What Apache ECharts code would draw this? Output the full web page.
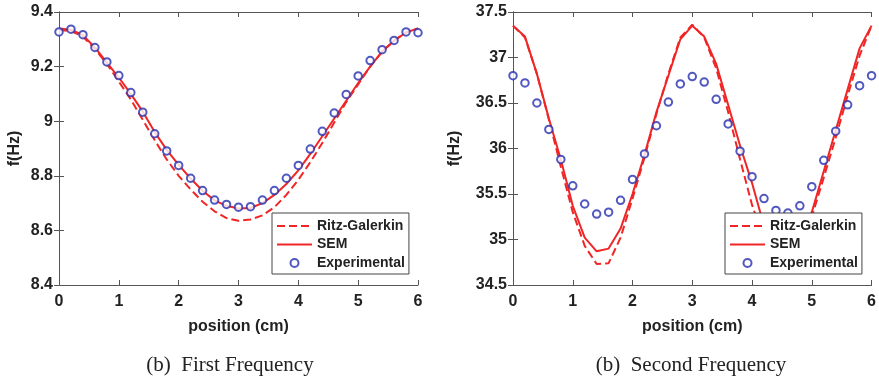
<!DOCTYPE html>
<html>
<head>
<meta charset="utf-8">
<script src="https://cdn.jsdelivr.net/npm/echarts@6/dist/echarts.min.js"></script>
<style>
  html, body { margin: 0; padding: 0; background: #fff; }
  #chart { width: 879px; height: 379px; }
</style>
</head>
<body>
<div id="chart"></div>
<script>
// positions along the beam (cm)
let positions = [0, 0.2, 0.4, 0.6, 0.8, 1, 1.2, 1.4, 1.6, 1.8, 2, 2.2, 2.4, 2.6, 2.8, 3,
  3.2, 3.4, 3.6, 3.8, 4, 4.2, 4.4, 4.6, 4.8, 5, 5.2, 5.4, 5.6, 5.8, 6];

// first frequency (Hz)
let ritz1 = [9.335, 9.33, 9.31, 9.265, 9.21, 9.145, 9.08, 9.005, 8.93, 8.86, 8.80, 8.75, 8.705, 8.67, 8.645, 8.635,
  8.64, 8.655, 8.685, 8.73, 8.785, 8.85, 8.92, 8.995, 9.07, 9.135, 9.20, 9.255, 9.295, 9.325, 9.34];
let sem1 = [9.34, 9.335, 9.315, 9.27, 9.215, 9.16, 9.10, 9.035, 8.96, 8.895, 8.84, 8.79, 8.745, 8.71, 8.69, 8.68,
  8.682, 8.70, 8.73, 8.77, 8.82, 8.88, 8.945, 9.01, 9.075, 9.14, 9.20, 9.255, 9.295, 9.325, 9.34];
let exp1 = [9.327, 9.337, 9.317, 9.270, 9.217, 9.167, 9.105, 9.033, 8.954, 8.891, 8.838, 8.791, 8.746, 8.711, 8.695, 8.685,
  8.687, 8.711, 8.746, 8.791, 8.838, 8.898, 8.963, 9.030, 9.098, 9.166, 9.222, 9.262, 9.296, 9.327, 9.324];

// second frequency (Hz)
let ritz2 = [37.35, 37.22, 36.82, 36.32, 35.80, 35.30, 34.93, 34.73, 34.74, 35.02, 35.45, 35.90, 36.38, 36.82, 37.22, 37.36,
  37.22, 36.88, 36.40, 35.88, 35.38, 35.00, 34.76, 34.72, 34.90, 35.25, 35.68, 36.12, 36.58, 37.02, 37.35];
let sem2 = [37.35, 37.23, 36.82, 36.33, 35.88, 35.37, 35.02, 34.87, 34.90, 35.12, 35.50, 35.93, 36.40, 36.80, 37.20, 37.35,
  37.23, 36.93, 36.48, 36.03, 35.62, 35.15, 34.92, 34.88, 35.00, 35.30, 35.75, 36.20, 36.65, 37.10, 37.35];
let exp2 = [36.80, 36.72, 36.50, 36.21, 35.88, 35.59, 35.39, 35.28, 35.30, 35.43, 35.66, 35.94, 36.25, 36.51, 36.71, 36.79,
  36.73, 36.54, 36.27, 35.97, 35.69, 35.45, 35.32, 35.29, 35.37, 35.58, 35.87, 36.19, 36.48, 36.69, 36.80];

let seriesNames = ["Ritz-Galerkin", "SEM", "Experimental"];
let captions = ["(b)  First Frequency", "(b)  Second Frequency"];

let font = "'Liberation Sans', Arial, sans-serif";
let red = "#f02626";
let blue = "#2530b0";
let axisColor = "#555";

function pairs(ys) {
  return positions.map((x, i) => [x, ys[i]]);
}

// 一个子图的坐标轴（含上、右两条无标签的镜像轴）
function buildAxes(idx, ymin, ymax, yint, nameGap) {
  let tick = { show: true, inside: true, length: 5, lineStyle: { color: axisColor } };
  let line = { show: true, lineStyle: { color: axisColor, width: 1 } };
  let label = { color: "#222", fontFamily: font, fontWeight: "bold", fontSize: 16 };
  return {
    x: [
      {
        type: "value", gridIndex: idx, min: 0, max: 6, interval: 1,
        axisLine: line, axisTick: tick, splitLine: { show: false },
        axisLabel: Object.assign({ margin: 9 }, label),
        name: "position (cm)", nameLocation: "middle", nameGap: 34,
        nameTextStyle: { color: "#222", fontFamily: font, fontWeight: "bold", fontSize: 16 },
      },
      {
        type: "value", gridIndex: idx, position: "top", min: 0, max: 6, interval: 1,
        axisLine: line, axisTick: tick, splitLine: { show: false }, axisLabel: { show: false },
      },
    ],
    y: [
      {
        type: "value", gridIndex: idx, min: ymin, max: ymax, interval: yint,
        axisLine: line, axisTick: tick, splitLine: { show: false },
        axisLabel: Object.assign({ margin: 6 }, label),
        name: "f(Hz)", nameLocation: "middle", nameGap: nameGap,
        nameTextStyle: { color: "#222", fontFamily: font, fontWeight: "bold", fontSize: 16 },
      },
      {
        type: "value", gridIndex: idx, position: "right", min: ymin, max: ymax, interval: yint,
        axisLine: line, axisTick: tick, splitLine: { show: false }, axisLabel: { show: false },
      },
    ],
  };
}

function buildSeries(idx, ritz, sem, exp) {
  let axisIndex = idx * 2;
  return [
    {
      name: seriesNames[0], type: "line", xAxisIndex: axisIndex, yAxisIndex: axisIndex,
      data: pairs(ritz), symbol: "none", z: 2,
      lineStyle: { color: red, width: 2, type: [8, 4] }, itemStyle: { color: red },
      animation: false,
    },
    {
      name: seriesNames[1], type: "line", xAxisIndex: axisIndex, yAxisIndex: axisIndex,
      data: pairs(sem), symbol: "none", z: 2,
      lineStyle: { color: red, width: 2 }, itemStyle: { color: red },
      animation: false,
    },
    {
      name: seriesNames[2], type: "scatter", xAxisIndex: axisIndex, yAxisIndex: axisIndex,
      data: pairs(exp), symbol: "emptyCircle", symbolSize: 7.5, z: 3,
      itemStyle: { color: blue, borderColor: blue, borderWidth: 2 },
      animation: false,
    },
  ];
}

function buildLegend(left) {
  return {
    orient: "vertical", left: left, top: 213,
    data: [
      { name: seriesNames[0], itemStyle: { opacity: 0 } },
      { name: seriesNames[1], itemStyle: { opacity: 0 } },
      { name: seriesNames[2] },
    ],
    itemWidth: 35, itemHeight: 8, itemGap: 4.5,
    padding: [6, 4, 4, 4],
    backgroundColor: "#fff", borderColor: "#444", borderWidth: 1, borderRadius: 0,
    textStyle: { color: "#222", fontFamily: font, fontWeight: "bold", fontSize: 14 },
    selectedMode: false, z: 10,
  };
}

let chart = echarts.init(document.getElementById("chart"));
let a1 = buildAxes(0, 8.4, 9.4, 0.2, 36);
let a2 = buildAxes(1, 34.5, 37.5, 0.5, 50);

let captionStyle = {
  fill: "#222", align: "center", verticalAlign: "middle",
  font: "21px 'Liberation Serif', 'Times New Roman', serif",
};

chart.setOption({
  backgroundColor: "#fff",
  animation: false,
  grid: [
    { left: 59, top: 12, width: 359, height: 273 },
    { left: 513, top: 12, width: 359, height: 273 },
  ],
  xAxis: a1.x.concat(a2.x),
  yAxis: a1.y.concat(a2.y),
  legend: [buildLegend(272), buildLegend(725)],
  series: buildSeries(0, ritz1, sem1, exp1).concat(buildSeries(1, ritz2, sem2, exp2)),
  graphic: [
    { type: "text", x: 230, y: 365, style: Object.assign({ text: captions[0] }, captionStyle) },
    { type: "text", x: 691, y: 365, style: Object.assign({ text: captions[1] }, captionStyle) },
  ],
});
</script>
</body>
</html>
